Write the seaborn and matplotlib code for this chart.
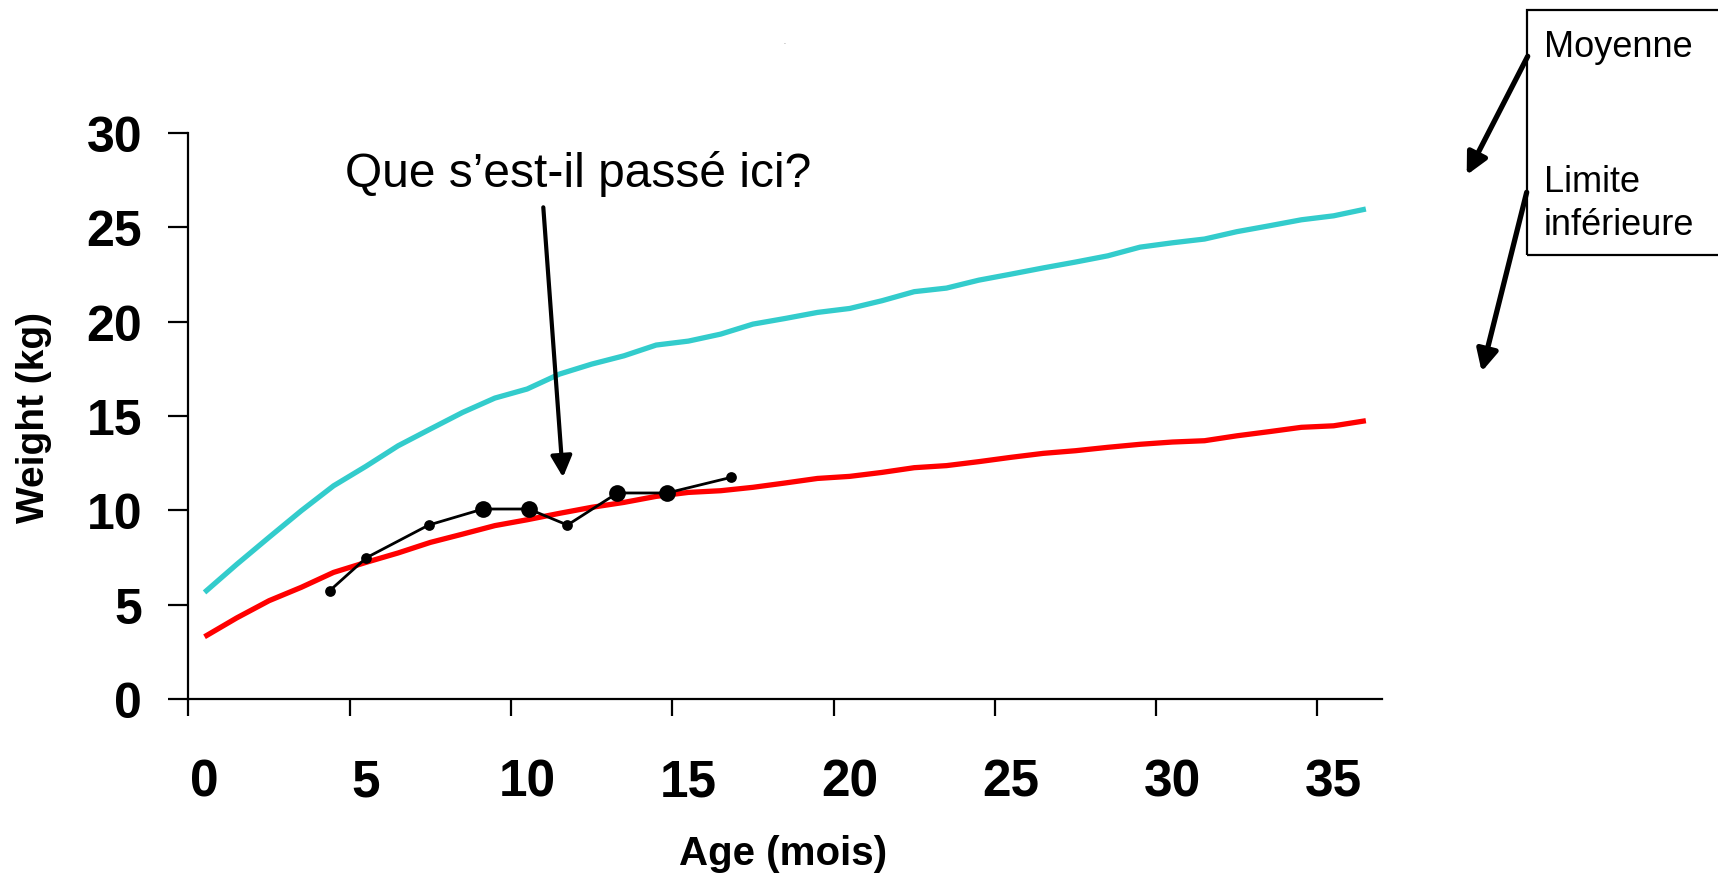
import numpy as np
import pandas as pd
import seaborn as sns
import matplotlib.pyplot as plt
from matplotlib.patches import Rectangle

# courbes de reference (mois 0 a 36)
mois = list(range(37))
moyenne = [5.65, 7.14, 8.57, 9.98, 11.3, 12.33, 13.42, 14.31, 15.19, 15.95, 16.43, 17.22,
           17.75, 18.19, 18.76, 18.97, 19.34, 19.87, 20.17, 20.49, 20.70, 21.11, 21.59,
           21.78, 22.2, 22.52, 22.85, 23.16, 23.49, 23.95, 24.18, 24.38, 24.77, 25.08,
           25.4, 25.61, 25.97]
limite_inf = [3.3, 4.3, 5.21, 5.92, 6.71, 7.24, 7.74, 8.30, 8.74, 9.19, 9.50, 9.84,
              10.16, 10.42, 10.74, 10.95, 11.04, 11.22, 11.45, 11.69, 11.80, 12.01, 12.26,
              12.37, 12.58, 12.81, 13.02, 13.16, 13.34, 13.5, 13.62, 13.69, 13.95, 14.17,
              14.40, 14.48, 14.75]

# mesures de l'enfant
age_enfant = [3.88, 5.02, 6.95, 8.63, 10.05, 11.25, 12.8, 14.34, 16.33]
poids_enfant = [5.74, 7.49, 9.22, 10.07, 10.07, 9.22, 10.92, 10.92, 11.75]
gros_point = [False, False, False, True, True, False, True, True, False]

courbes = pd.DataFrame({"mois": mois, "moyenne": moyenne, "limite": limite_inf})
enfant = pd.DataFrame({"age": age_enfant, "poids": poids_enfant, "gros": gros_point})

sns.set_style("ticks")
plt.rcParams["font.family"] = ["Liberation Sans", "DejaVu Sans"]
for k in ["text.color", "axes.labelcolor", "xtick.color", "ytick.color", "axes.edgecolor"]:
    plt.rcParams[k] = "black"

W, H = 1718, 878
fig = plt.figure(figsize=(W / 100, H / 100), dpi=100)
ax = fig.add_axes([188.4 / W, 1 - 700 / H, (1382 - 188.4) / W, 566 / H])


def px(x, y):
    # pixels de l'image -> fraction de la figure
    return x / W, 1 - y / H


sns.lineplot(data=courbes, x="mois", y="moyenne", color="#33CCCC", linewidth=3.8, ax=ax,
             solid_capstyle="butt")
sns.lineplot(data=courbes, x="mois", y="limite", color="#FF0000", linewidth=3.8, ax=ax,
             solid_capstyle="butt")
sns.lineplot(data=enfant, x="age", y="poids", color="black", linewidth=2.0, ax=ax,
             sort=False, zorder=4)
sns.scatterplot(data=enfant[~enfant["gros"]], x="age", y="poids", color="black", s=60,
                linewidth=0, ax=ax, zorder=5)
sns.scatterplot(data=enfant[enfant["gros"]], x="age", y="poids", color="black", s=145,
                linewidth=0, ax=ax, zorder=5)

ax.set_xlim(-0.5, 36.5)
ax.set_ylim(0, 30)
sns.despine(ax=ax)
for s in ["left", "bottom"]:
    ax.spines[s].set_linewidth(1.6)

ax.set_yticks(range(0, 31, 5))
ax.tick_params(axis="y", length=14.4, width=1.6, pad=19, labelsize=36)
ax.set_xticks(range(0, 36, 5))
ax.set_xticks(np.arange(-0.5, 35, 5), minor=True)
ax.tick_params(axis="x", which="major", length=0, pad=42, labelsize=37)
ax.tick_params(axis="x", which="minor", length=12, width=1.6)
for lab in ax.get_xticklabels() + ax.get_yticklabels():
    lab.set_fontweight("bold")

ax.set_xlabel("Age (mois)", fontsize=29, fontweight="bold", va="center")
ax.xaxis.set_label_coords(0.498, -0.272)
ax.set_ylabel("Weight (kg)", fontsize=28, fontweight="bold", va="center")
ax.yaxis.set_label_coords(-0.1294, 0.499)

# annotation centrale
fig.text(*px(578, 186.7), "Que s\u2019est-il passé ici?", fontsize=34.5,
         ha="center", va="baseline")
fleche = dict(arrowstyle="-|>", color="black", shrinkA=0, shrinkB=0, mutation_scale=32)
ax.annotate("", xy=px(563, 478.3), xycoords="figure fraction",
            xytext=px(543.3, 208.3), textcoords="figure fraction",
            arrowprops=dict(fleche, lw=3.0))

# encadre legende
x0, y1 = px(1527, 256)
fig.add_artist(Rectangle((x0, y1), (1740 - 1527) / W, 245 / H, transform=fig.transFigure,
                         fill=False, edgecolor="black", linewidth=1.6))
fig.text(*px(1544, 56.7), "Moyenne", fontsize=26, va="baseline")
fig.text(*px(1544, 191.7), "Limite", fontsize=26, va="baseline")
fig.text(*px(1544, 235), "inférieure", fontsize=26, va="baseline")
ax.annotate("", xy=px(1466.7, 176), xycoords="figure fraction",
            xytext=px(1527.7, 57.3), textcoords="figure fraction",
            arrowprops=dict(fleche, lw=3.8))
ax.annotate("", xy=px(1481.7, 372.7), xycoords="figure fraction",
            xytext=px(1526.7, 193.3), textcoords="figure fraction",
            arrowprops=dict(fleche, lw=3.8))

fig.text(*px(784, 42), ".", fontsize=5, color="#666666", ha="center", va="center")

fig.savefig("out.png", dpi=100)
